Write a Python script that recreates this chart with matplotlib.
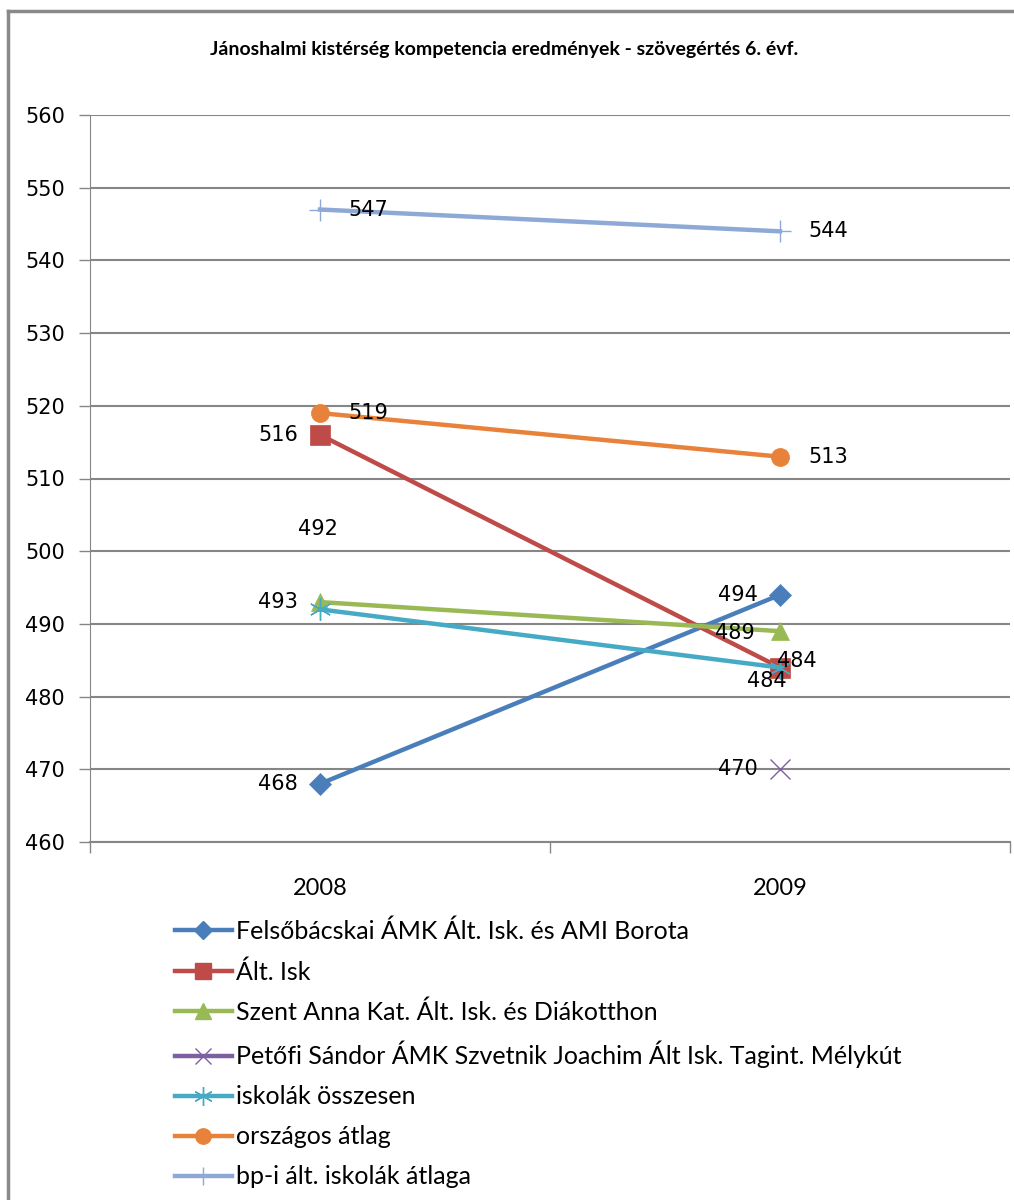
import matplotlib.pyplot as plt
import numpy as np
from matplotlib.lines import Line2D

# adatok
evek = ['2008', '2009']
nevek = ['Felsőbácskai ÁMK Ált. Isk. és AMI Borota',
         'Ált. Isk',
         'Szent Anna Kat. Ált. Isk. és Diákotthon',
         'Petőfi Sándor ÁMK Szvetnik Joachim Ált Isk. Tagint. Mélykút',
         'iskolák összesen',
         'országos átlag',
         'bp-i ált. iskolák átlaga']
felsobacskai = [468, 494]
alt_isk = [516, 484]
szent_anna = [493, 489]
petofi = [np.nan, 470]
osszesen = [492, 484]
orszagos = [519, 513]
bp_atlag = [547, 544]
yticks = list(range(460, 561, 10))

sorok = [felsobacskai, alt_isk, szent_anna, petofi, osszesen, orszagos, bp_atlag]
szinek = ['#4A7EBB', '#BE4B48', '#98B954', '#7D60A0', '#46AAC5', '#E8823A', '#8EA9D6']
markerek = ['D', 's', '^', 'x', (6, 2, 0), 'o', '+']
mmeret = [11, 14, 13, 14, 16, 13, 16]

# címke eltolás pixelben (dx, dy, ha, va)
cimke_hely = [
    [(-22, 0, 'right', 'center'), (-22, 0, 'right', 'center')],
    [(-22, 0, 'right', 'center'), (-3, 7, 'left', 'center')],
    [(-22, 0, 'right', 'center'), (-25, -2, 'right', 'center')],
    [None, (-22, 0, 'right', 'center')],
    [(18, 80, 'right', 'center'), (7, -13, 'right', 'center')],
    [(28, 0, 'left', 'center'), (28, 0, 'left', 'center')],
    [(28, 0, 'left', 'center'), (28, 0, 'left', 'center')],
]

fig = plt.figure(figsize=(10.14, 12), dpi=100)
ax = fig.add_axes([90/1014, 1-842/1200, 920/1014, 727/1200])

x = np.arange(len(evek))
for i, s in enumerate(sorok):
    mk = markerek[i]
    vekony = mk in ('x', '+') or isinstance(mk, tuple)
    ax.plot(x, s, color=szinek[i], lw=3.2, marker=mk, ms=mmeret[i],
            markeredgewidth=1.0 if vekony else 0.5,
            markeredgecolor=szinek[i], zorder=3)
    for j, v in enumerate(s):
        if np.isnan(v) or cimke_hely[i][j] is None:
            continue
        dx, dy, ha, va = cimke_hely[i][j]
        ax.annotate(str(int(v)), (x[j], v), xytext=(dx*0.72, dy*0.72),
                    textcoords='offset points', ha=ha, va=va,
                    fontsize=15, family='DejaVu Sans', color='black', zorder=4)

ax.set_xlim(-0.5, 1.5)
ax.set_ylim(460, 560)
ax.set_yticks(yticks)
ax.set_yticklabels([str(t) for t in yticks], fontsize=15, family='DejaVu Sans')
ax.yaxis.grid(True, color='#868686', lw=1.5)
ax.set_axisbelow(True)
ax.set_xticks([-0.5, 0.5, 1.5])
ax.set_xticklabels([])
ax.set_xticks(x, minor=True)
ax.set_xticklabels(evek, minor=True, fontsize=17, family='Lato')
ax.tick_params(axis='x', which='major', length=8, color='#868686', width=1)
ax.tick_params(axis='x', which='minor', length=0, pad=26)
ax.tick_params(axis='y', length=8, color='#868686', width=1, pad=10)
for sp in ['top', 'right']:
    ax.spines[sp].set_visible(False)
ax.spines['left'].set_color('#868686')
ax.spines['bottom'].set_color('#868686')
ax.spines['bottom'].set_linewidth(1.5)

fig.text(0.497, 1-50/1200, 'Jánoshalmi kistérség kompetencia eredmények - szövegértés 6. évf.',
         ha='center', va='center', fontsize=14, fontweight='bold', family='Lato')

# jelmagyarázat
kezelok = [Line2D([], [], color=szinek[i], lw=3.2, marker=markerek[i],
                  ms=mmeret[i]*0.85, markeredgecolor=szinek[i],
                  markeredgewidth=1.0) for i in range(len(nevek))]
fig.legend(kezelok, nevek, loc='upper left', bbox_to_anchor=(152/1014, 1-897/1200),
           frameon=False, handlelength=2.3, handletextpad=0.15,
           labelspacing=0.68, prop={'family': 'Lato', 'size': 18})

# keret
fig.add_artist(Line2D([8/1014, 1], [1-11/1200, 1-11/1200], color='#898989', lw=2.5,
                      transform=fig.transFigure))
fig.add_artist(Line2D([8/1014, 8/1014], [0, 1-11/1200], color='#898989', lw=2.5,
                      transform=fig.transFigure))

fig.savefig('out.png', dpi=100)
